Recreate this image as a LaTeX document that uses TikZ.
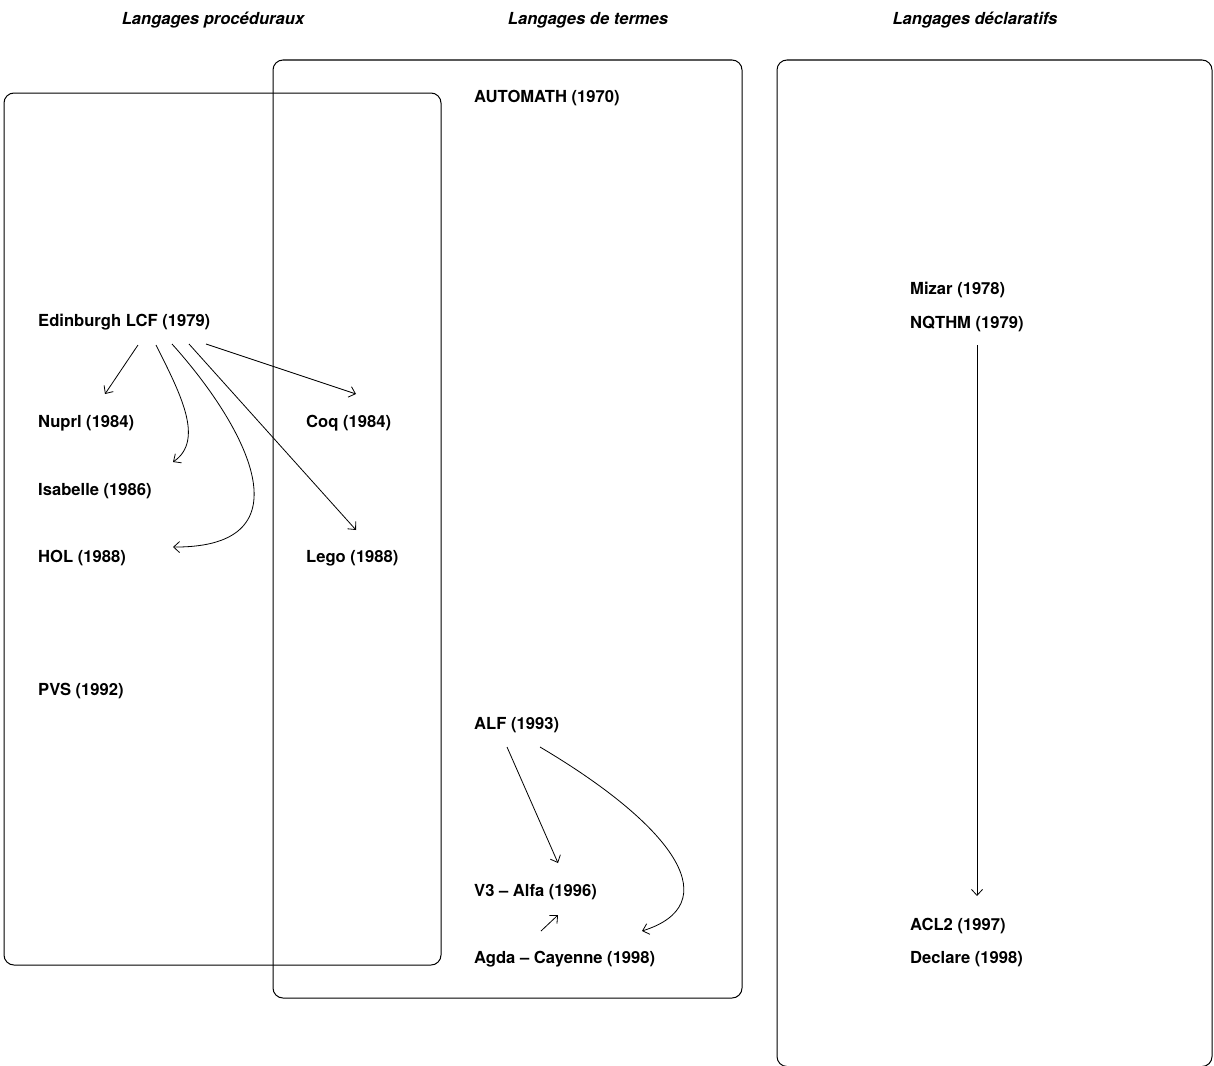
\documentclass[tikz,border=0pt]{standalone}
\usepackage{fontspec}
\setmainfont{TeX Gyre Heros}
\usetikzlibrary{arrows.meta,calc}
\begin{document}
\begin{tikzpicture}[x=1pt,y=-1pt,
  lbl/.style={anchor=base west,inner sep=0pt,font=\fontsize{16.6}{20}\selectfont\bfseries},
  ttl/.style={anchor=base,inner sep=0pt,font=\fontsize{16.6}{20}\selectfont\bfseries\itshape},
  region/.style={draw,line width=1pt,rounded corners=10pt},
  arr/.style={line width=0.8pt,-{Straight Barb[length=6pt,width=11pt]}}]
\useasboundingbox (0,0) rectangle (1214,1065);
% regions
\draw[region] (4,93) rectangle (441,965);
\draw[region] (273,60) rectangle (742,998);
\draw[region] (777,60) rectangle (1212,1066.5);
% titles
\node[ttl] (tproc) at (213,25) {Langages procéduraux};
\node[ttl] (tterm) at (588,25) {Langages de termes};
\node[ttl] (tdecl) at (975,25) {Langages déclaratifs};
% procedural
\node[lbl] (edin) at (38,326) {Edinburgh LCF (1979)};
\node[lbl] (nuprl) at (38,427) {Nuprl (1984)};
\node[lbl] (isab) at (38,495) {Isabelle (1986)};
\node[lbl] (hol) at (38,562) {HOL (1988)};
\node[lbl] (pvs) at (38,695) {PVS (1992)};
% terms
\node[lbl] (autom) at (474,102) {AUTOMATH (1970)};
\node[lbl] (coq) at (306,427) {Coq (1984)};
\node[lbl] (lego) at (306,562) {Lego (1988)};
\node[lbl] (alf) at (474,729) {ALF (1993)};
\node[lbl] (v3) at (474,896) {V3 -- Alfa (1996)};
\node[lbl] (agda) at (474,963) {Agda -- Cayenne (1998)};
% declarative
\node[lbl] (mizar) at (910,294) {Mizar (1978)};
\node[lbl] (nqthm) at (910,328) {NQTHM (1979)};
\node[lbl] (acl2) at (910,930) {ACL2 (1997)};
\node[lbl] (decl) at (910,963) {Declare (1998)};
% arrows from Edinburgh LCF
\draw[arr] ($(edin.base west)+(100,19)$) -- ($(nuprl.base west)+(67,-33)$);
\draw[arr] ($(edin.base west)+(118,19)$) .. controls (180,393) and (205,440) .. ($(isab.base west)+(135,-33)$);
\draw[arr] ($(edin.base west)+(134,18)$) .. controls (245,425) and (312,548) .. ($(hol.base west)+(135,-15)$);
\draw[arr] ($(edin.base west)+(151,18)$) -- ($(lego.base west)+(50,-32)$);
\draw[arr] ($(edin.base west)+(168,18)$) -- ($(coq.base west)+(50,-33)$);
% ALF family
\draw[arr] ($(alf.base west)+(33,18)$) -- ($(v3.base west)+(84,-33)$);
\draw[arr] ($(alf.base west)+(66,18)$) .. controls (680,830) and (725,905) .. ($(agda.base west)+(168,-32)$);
\draw[arr] ($(agda.base west)+(67,-32)$) -- ($(v3.base west)+(84,19)$);
% NQTHM -> ACL2
\draw[arr] ($(nqthm.base west)+(67,17)$) -- ($(acl2.base west)+(67,-34)$);
\end{tikzpicture}
\end{document}
